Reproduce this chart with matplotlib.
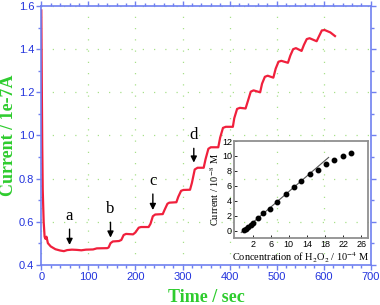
import matplotlib

matplotlib.use("Agg")
import matplotlib.pyplot as plt
from matplotlib.ticker import MultipleLocator

plt.rcParams["mathtext.fontset"] = "stix"

# --- main trace: current vs time ---
TIME = [0, 1, 2, 3, 5, 7, 9, 11, 14, 20, 30, 40, 48, 55, 65, 75, 85, 95,
        110, 118, 140, 143, 147, 152, 165, 170, 175, 180, 195, 200, 207, 212,
        228, 232, 237, 242, 258, 262, 268, 272, 287, 291, 297, 302, 316, 320,
        326, 332, 345, 349, 355, 360, 376, 380, 386, 392, 407, 410, 416, 422,
        434, 439, 445, 451, 465, 469, 475, 481, 493, 498, 504, 510, 524, 529,
        535, 541, 553, 558, 564, 570, 585, 590, 596, 602, 614, 624]
CURRENT = [1.58, 1.25, 0.95, 0.75, 0.60, 0.53, 0.52, 0.53, 0.50, 0.485,
           0.472, 0.466, 0.463, 0.468, 0.470, 0.469, 0.467, 0.470, 0.471,
           0.476, 0.477, 0.480, 0.500, 0.508, 0.510, 0.515, 0.538, 0.543,
           0.541, 0.550, 0.572, 0.575, 0.575, 0.590, 0.625, 0.633, 0.635,
           0.655, 0.683, 0.688, 0.690, 0.715, 0.743, 0.747, 0.748, 0.780,
           0.842, 0.850, 0.850, 0.890, 0.938, 0.945, 0.945, 0.990, 1.035,
           1.040, 1.040, 1.080, 1.123, 1.128, 1.125, 1.160, 1.203, 1.209,
           1.200, 1.240, 1.272, 1.277, 1.268, 1.310, 1.342, 1.346, 1.337,
           1.370, 1.400, 1.405, 1.392, 1.420, 1.447, 1.451, 1.437, 1.460,
           1.487, 1.489, 1.478, 1.461]

# arrows: label, time, arrow top, arrow tip
MARK_LABELS = ["a", "b", "c", "d"]
MARK_TIME = [60, 147, 237, 324]
MARK_TOP = [0.578, 0.610, 0.741, 0.953]
MARK_TIP = [0.479, 0.513, 0.641, 0.861]

# --- inset: calibration ---
CONC = [0.15, 0.53, 0.97, 1.56, 2.07, 3.3, 4.4, 5.8, 7.5, 9.3, 11.1, 12.8,
        14.7, 16.5, 18.3, 20.1, 21.9, 23.7]
CAL_CURRENT = [0.09, 0.22, 0.45, 0.75, 1.06, 1.68, 2.3, 2.88, 3.76, 4.87,
               5.84, 6.68, 7.52, 8.18, 8.89, 9.51, 9.95, 10.35]
FIT_X = [-0.5, 18.8]
FIT_Y = [-0.26, 9.8]

GREEN = "#2ecc2e"
BLUE = "#2233dd"
SPINE = "#7080f0"
RED = "#f0203c"
GRID = "#a8e08a"

fig = plt.figure(figsize=(3.8, 3.05), dpi=100)
ax = fig.add_axes([0.1087, 0.132, 0.867, 0.848])

ax.plot(TIME, CURRENT, color=RED, lw=1.6, solid_joinstyle="round")
ax.set_xlim(0, 700)
ax.set_ylim(0.4, 1.6)
ax.xaxis.set_major_locator(MultipleLocator(100))
ax.xaxis.set_minor_locator(MultipleLocator(20))
ax.yaxis.set_major_locator(MultipleLocator(0.2))
ax.yaxis.set_minor_locator(MultipleLocator(0.1))
ax.yaxis.set_major_formatter(plt.FormatStrFormatter("%.1f"))
ax.tick_params(which="both", direction="out", colors=SPINE, labelcolor=BLUE,
               labelsize=8, top=True, right=True, width=1)
ax.tick_params(which="major", length=3.5, pad=1.5)
ax.tick_params(which="minor", length=2)
for lab in ax.get_xticklabels() + ax.get_yticklabels():
    lab.set_family("Liberation Sans")
for sp in ax.spines.values():
    sp.set_color(SPINE)
    sp.set_linewidth(1.2)
ax.grid(True, which="major", color=GRID, linestyle=(0, (1, 8)), lw=0.9)

ax.set_xlabel("Time / sec", family="Liberation Serif", weight="bold",
              fontsize=13, color=GREEN)
ax.set_ylabel("Current / 1e-7A", family="Liberation Serif", weight="bold",
              fontsize=13, color=GREEN, va="center")
ax.xaxis.set_label_coords(0.5, -0.095)
ax.yaxis.set_label_coords(-0.1, 0.5)

for lab, t, top, tip in zip(MARK_LABELS, MARK_TIME, MARK_TOP, MARK_TIP):
    ax.annotate("", xy=(t, tip), xytext=(t, top),
                arrowprops=dict(arrowstyle="-|>", color="black", lw=1,
                                mutation_scale=9))
    ax.text(t, top + 0.01, lab, ha="center", va="bottom",
            family="Liberation Serif", fontsize=12)

# inset
ins = fig.add_axes([0.6158, 0.2197, 0.3526, 0.318])
ins.patch.set_alpha(0)
ins.plot(FIT_X, FIT_Y, color="#555555", lw=0.8)
ins.plot(CONC, CAL_CURRENT, "o", color="black", ms=3.2)
ins.set_xlim(-2.1, 27.5)
ins.set_ylim(-1, 12)
ins.set_xticks([2, 6, 10, 14, 18, 22, 26])
ins.set_yticks([0, 2, 4, 6, 8, 10, 12])
ins.tick_params(direction="in", length=2, labelsize=6.5, pad=1.5, width=0.6)
for lab in ins.get_xticklabels() + ins.get_yticklabels():
    lab.set_family("Liberation Sans")
for sp in ins.spines.values():
    sp.set_color("#909090")
    sp.set_linewidth(1.3)
ins.set_xlabel("Concentration of H$_2$O$_2$ / 10$^{-4}$ M",
               family="Liberation Serif", fontsize=7.5, labelpad=1)
ins.set_ylabel("Current / 10$^{-8}$ M", family="Liberation Serif",
               fontsize=7.5, labelpad=1)

fig.savefig("out.png", dpi=100)
